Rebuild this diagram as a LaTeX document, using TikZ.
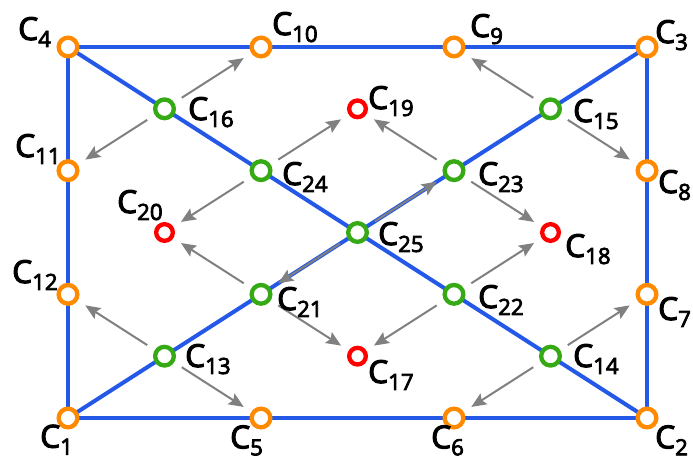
\documentclass[tikz,border=0pt]{standalone}
\usepackage{fontspec}
\newfontfamily\labfont{Open Sans}[FakeBold=3.5]
\usepackage{tikz}
\usetikzlibrary{arrows.meta,backgrounds}
\definecolor{sidec}{HTML}{2458E6}
\definecolor{bndc}{HTML}{FF8A00}
\definecolor{crossc}{HTML}{36AA14}
\definecolor{voidc}{HTML}{FF0000}
\definecolor{flowc}{HTML}{808080}
\newcommand{\cn}[1]{C\raisebox{-0.22em}{\fontsize{19}{20}\selectfont #1}}

\begin{document}
\begin{tikzpicture}[font=\labfont\fontsize{27}{30}\selectfont,
  ringpt/.style={circle, draw, fill=white, line width=0.13cm, minimum size=0.56cm, inner sep=0pt},
  bndpt/.style={ringpt, draw=bndc},
  crosspt/.style={ringpt, draw=crossc},
  voidpt/.style={ringpt, draw=voidc, minimum size=0.5cm},
  labc/.style={anchor=base west, inner sep=0pt},
  side/.style={sidec, line width=0.12cm},
  flow/.style={flowc, line width=0.06cm, -{Stealth[length=0.45cm,width=0.38cm,inset=0.08cm]}, shorten <=0.27cm, shorten >=0.27cm}]
  \useasboundingbox (0,0) rectangle (20.79,13.83);
  \node[bndpt] (c1) at (2.04,1.29){};
  \node[bndpt] (c2) at (19.41,1.29){};
  \node[bndpt] (c3) at (19.41,12.42){};
  \node[bndpt] (c4) at (2.04,12.42){};
  \node[bndpt] (c5) at (7.83,1.29){};
  \node[bndpt] (c6) at (13.62,1.29){};
  \node[bndpt] (c7) at (19.41,5.00){};
  \node[bndpt] (c8) at (19.41,8.71){};
  \node[bndpt] (c9) at (13.62,12.42){};
  \node[bndpt] (c10) at (7.83,12.42){};
  \node[bndpt] (c11) at (2.04,8.71){};
  \node[bndpt] (c12) at (2.04,5.00){};
  \node[crosspt] (c13) at (4.935,3.145){};
  \node[crosspt] (c14) at (16.515,3.145){};
  \node[crosspt] (c15) at (16.515,10.565){};
  \node[crosspt] (c16) at (4.935,10.565){};
  \node[voidpt] (c17) at (10.725,3.145){};
  \node[voidpt] (c18) at (16.515,6.855){};
  \node[voidpt] (c19) at (10.725,10.565){};
  \node[voidpt] (c20) at (4.935,6.855){};
  \node[crosspt] (c21) at (7.83,5.00){};
  \node[crosspt] (c22) at (13.62,5.00){};
  \node[crosspt] (c23) at (13.62,8.71){};
  \node[crosspt] (c24) at (7.83,8.71){};
  \node[crosspt] (c25) at (10.725,6.855){};
  \node[labc] (t1) at (1.20,0.40){\cn{1}};
  \node[labc] (t2) at (19.65,0.38){\cn{2}};
  \node[labc] (t3) at (19.65,12.54){\cn{3}};
  \node[labc] (t4) at (0.54,12.63){\cn{4}};
  \node[labc] (t5) at (6.90,0.38){\cn{5}};
  \node[labc] (t6) at (12.93,0.38){\cn{6}};
  \node[labc] (t7) at (19.74,4.23){\cn{7}};
  \node[labc] (t8) at (19.74,8.04){\cn{8}};
  \node[labc] (t9) at (14.10,12.72){\cn{9}};
  \node[labc] (t10) at (8.16,12.78){\cn{10}};
  \node[labc] (t11) at (0.45,9.12){\cn{11}};
  \node[labc] (t12) at (0.36,5.34){\cn{12}};
  \node[labc] (t13) at (5.55,2.82){\cn{13}};
  \node[labc] (t14) at (17.19,2.82){\cn{14}};
  \node[labc] (t15) at (17.19,10.17){\cn{15}};
  \node[labc] (t16) at (5.64,10.23){\cn{16}};
  \node[labc] (t17) at (11.04,2.34){\cn{17}};
  \node[labc] (t18) at (16.95,6.12){\cn{18}};
  \node[labc] (t19) at (11.04,10.56){\cn{19}};
  \node[labc] (t20) at (3.51,7.44){\cn{20}};
  \node[labc] (t21) at (8.31,4.53){\cn{21}};
  \node[labc] (t22) at (14.34,4.59){\cn{22}};
  \node[labc] (t23) at (14.34,8.28){\cn{23}};
  \node[labc] (t24) at (8.46,8.28){\cn{24}};
  \node[labc] (t25) at (11.34,6.48){\cn{25}};
  \begin{scope}[on background layer]
    \draw[side] (c1.center) -- (c2.center) -- (c3.center) -- (c4.center) -- cycle;
    \draw[side] (c1.center) -- (c3.center);
    \draw[side] (c4.center) -- (c2.center);
    \draw[flow] (c16) -- (c10);
    \draw[flow] (c16) -- (c11);
    \draw[flow] (c24) -- (c19);
    \draw[flow] (c24) -- (c20);
    \draw[flow] (c15) -- (c9);
    \draw[flow] (c15) -- (c8);
    \draw[flow] (c23) -- (c19);
    \draw[flow] (c23) -- (c18);
    \draw[flow] (c13) -- (c12);
    \draw[flow] (c13) -- (c5);
    \draw[flow] (c21) -- (c20);
    \draw[flow] (c21) -- (c17);
    \draw[flow] (c14) -- (c7);
    \draw[flow] (c14) -- (c6);
    \draw[flow] (c22) -- (c18);
    \draw[flow] (c22) -- (c17);
    \draw[flow] (c25) -- (c23);
    \draw[flow] (c25) -- (c21);
  \end{scope}
\end{tikzpicture}
\end{document}
